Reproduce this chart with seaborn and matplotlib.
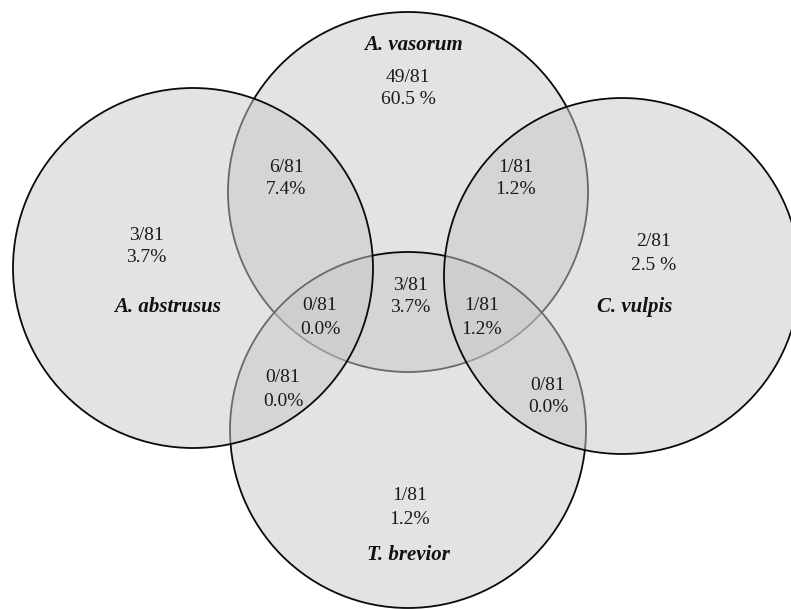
import matplotlib
matplotlib.use("Agg")
import matplotlib.pyplot as plt
from matplotlib.patches import Circle
import seaborn as sns

# sets, drawn in this order (later circles sit on top)
set_names = ["A. vasorum", "T. brevior", "A. abstrusus", "C. vulpis"]

# region values (count out of total) and the percentage strings as printed
total = 81
region_names = ["vasorum", "vasorum+abstrusus", "vasorum+vulpis", "abstrusus",
                "vulpis", "vasorum+abstrusus+brevior", "vasorum+brevior",
                "vasorum+vulpis+brevior", "abstrusus+brevior",
                "vulpis+brevior", "brevior"]
region_counts = [49, 6, 1, 3, 2, 0, 3, 1, 0, 0, 1]
region_pcts = ["60.5 %", "7.4%", "1.2%", "3.7%", "2.5 %", "0.0%", "3.7%",
               "1.2%", "0.0%", "0.0%", "1.2%"]

# layout (pixel coords, y down)
circle_xy = [(408, 192), (408, 430), (193, 268), (622, 276)]
circle_r = [180, 178, 180, 178]
name_xy = [(413, 45), (408, 555), (168, 307), (635, 307)]
region_xy = [(408, 77), (286, 167), (516, 167), (146, 235), (654, 242),
             (320, 306), (410, 285), (482, 306), (283, 378), (548, 385),
             (410, 496)]
line_gap = 23

sns.set_theme(style="white")
plt.rcParams["font.family"] = ["Liberation Serif", "DejaVu Serif"]

fig = plt.figure(figsize=(7.91, 6.09), dpi=100)
ax = fig.add_axes([0, 0, 1, 1])
ax.set_xlim(0, 791)
ax.set_ylim(609, 0)
ax.set_aspect("equal")
ax.axis("off")

for (cx, cy), r in zip(circle_xy, circle_r):
    ax.add_patch(Circle((cx, cy), r, facecolor="#c8c8c8", alpha=0.5,
                        edgecolor="none", zorder=2))
    ax.add_patch(Circle((cx, cy), r, facecolor="none", edgecolor="#0a0a0a",
                        linewidth=1.3, zorder=2))

for name, (x, y) in zip(set_names, name_xy):
    ax.text(x, y, name, ha="center", va="center", fontsize=15,
            fontweight="bold", fontstyle="italic", color="#111111", zorder=5)

for n, pct, (x, y) in zip(region_counts, region_pcts, region_xy):
    ax.text(x, y, f"{n}/{total}", ha="center", va="center", fontsize=14,
            color="#1a1a1a", zorder=5)
    ax.text(x, y + line_gap, pct, ha="center", va="center", fontsize=14,
            color="#1a1a1a", zorder=5)

fig.savefig("out.png", dpi=100)
